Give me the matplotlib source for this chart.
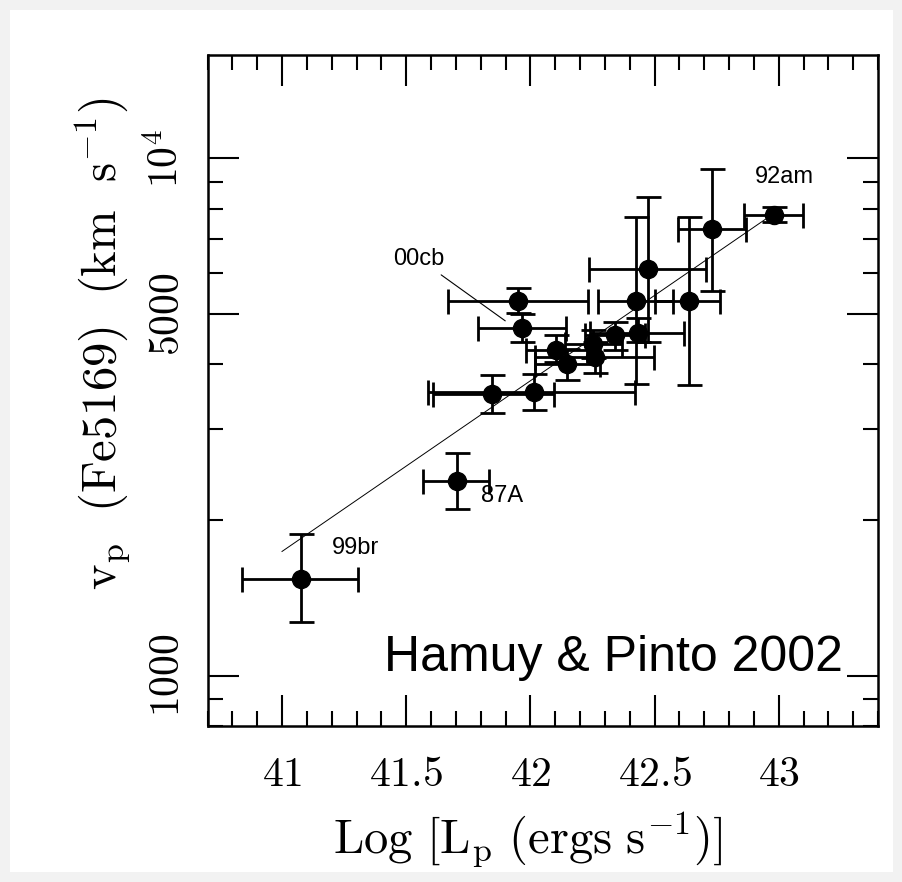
import numpy as np
import matplotlib
matplotlib.use("Agg")
import matplotlib.pyplot as plt
from matplotlib.patches import Rectangle
from matplotlib.ticker import FixedLocator, MultipleLocator, LogLocator, NullFormatter

plt.rcParams['mathtext.fontset'] = 'cm'

# peak luminosity (log erg/s) and Fe II 5169 velocity (km/s) with errors
log_lum = [41.075, 41.704, 41.845, 42.015, 41.952, 41.966, 42.104, 42.147, 42.252,
           42.261, 42.342, 42.434, 42.425, 42.637, 42.473, 42.731, 42.982]
lum_err_lo = [0.237, 0.135, 0.238, 0.426, 0.284, 0.177, 0.122, 0.128, 0.112,
              0.242, 0.12, 0.193, 0.151, 0.134, 0.235, 0.137, 0.123]
lum_err_hi = [0.232, 0.130, 0.252, 0.407, 0.282, 0.177, 0.124, 0.134, 0.118,
              0.235, 0.12, 0.186, 0.148, 0.128, 0.234, 0.137, 0.116]
vel = [1540, 2380, 3510, 3530, 5300, 4700, 4270, 4000, 4370,
       4130, 4550, 4590, 5300, 5300, 6100, 7290, 7790]
vel_err_lo = [270, 280, 290, 270, 285, 280, 235, 270, 265,
              285, 295, 180, 1630, 1650, 1680, 1745, 260]
vel_err_hi = [335, 320, 300, 305, 305, 310, 295, 280, 280,
              285, 280, 320, 2405, 2395, 2330, 2245, 270]

# linear fit in log v vs log L
fit_x = [41.0, 42.97]
fit_slope = 0.330
fit_zero = 3.240  # log v at log L = 41

xticks = [41, 41.5, 42, 42.5, 43]
xticklabels = ['$41$', '$41.5$', '$42$', '$42.5$', '$43$']
yticks = [1000, 5000, 10000]
yticklabels = ['$1000$', '$5000$', '$10^4$']

fig = plt.figure(figsize=(9.02, 8.82), dpi=100)
fig.patch.set_facecolor('#f2f2f2')
fig.add_artist(Rectangle((10 / 902, 10 / 882), 883 / 902, 862 / 882,
                         transform=fig.transFigure, facecolor='white',
                         edgecolor='none', zorder=-5))
ax = fig.add_axes([207.5 / 902, 1 - 725.7 / 882, 670.5 / 902, 670.7 / 882])

ax.set_yscale('log')
ax.set_xlim(40.7, 43.4)
ax.set_ylim(800, 10 ** 4.2)

fx = np.array(fit_x)
ax.plot(fx, 10 ** (fit_zero + fit_slope * (fx - 41)), color='black', lw=0.7)

ax.errorbar(log_lum, vel, xerr=[lum_err_lo, lum_err_hi], yerr=[vel_err_lo, vel_err_hi],
            fmt='o', color='black', ms=13, elinewidth=2, capsize=9, capthick=2)

lab_font = dict(family='Liberation Sans', fontsize=17)
ax.text(43.023, 9200, '92am', ha='center', va='center', **lab_font)
ax.text(41.888, 2222, '87A', ha='center', va='center', **lab_font)
ax.text(41.297, 1761, '99br', ha='center', va='center', **lab_font)
ax.annotate('00cb', xy=(41.899, 4852), xytext=(41.55, 6400), ha='center', va='center',
            arrowprops=dict(arrowstyle='-', color='black', lw=0.8, shrinkA=3, shrinkB=0),
            **lab_font)
ax.text(0.948, 0.0816, 'Hamuy & Pinto 2002', transform=ax.transAxes, ha='right',
        va='baseline', family='Liberation Sans', fontsize=36)

ax.xaxis.set_major_locator(FixedLocator(xticks))
ax.set_xticklabels(xticklabels, fontsize=30)
ax.xaxis.set_minor_locator(MultipleLocator(0.1))
ax.yaxis.set_major_locator(FixedLocator(yticks))
ax.set_yticklabels(yticklabels, fontsize=30, rotation=90, va='center')
ax.yaxis.set_minor_locator(LogLocator(base=10, subs=np.arange(2, 10)))
ax.yaxis.set_minor_formatter(NullFormatter())

ax.tick_params(which='both', direction='in', top=True, right=True, width=1.5)
ax.tick_params(which='major', length=22)
ax.tick_params(axis='x', which='major', pad=20)
ax.tick_params(axis='y', which='major', pad=14)
ax.tick_params(which='minor', length=11)
for s in ax.spines.values():
    s.set_linewidth(1.8)

ax.set_xlabel(r'$\mathrm{Log\ [L_p\ (ergs\ s^{-1})]}$', fontsize=35, labelpad=10, x=0.477)
ax.set_ylabel(r'$\mathrm{v_p\ \ (Fe5169)\ \ (km\ \ s^{-1})}$', fontsize=35, labelpad=10, y=0.57)

fig.savefig('out.png', dpi=100, facecolor=fig.get_facecolor())
